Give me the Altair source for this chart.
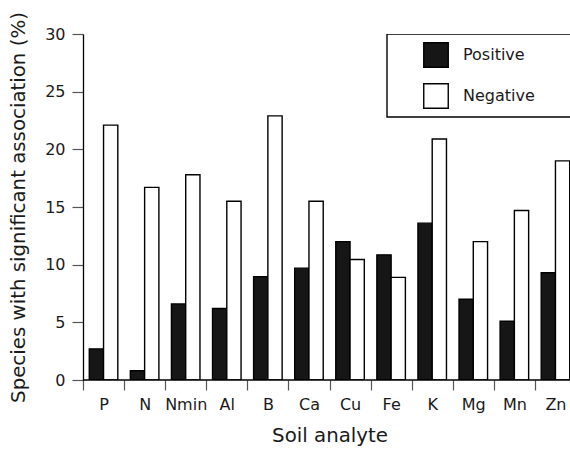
import altair as alt
import pandas as pd

analytes = ["P", "N", "Nmin", "Al", "B", "Ca", "Cu", "Fe", "K", "Mg", "Mn", "Zn"]
positive = [2.7, 0.8, 6.6, 6.2, 8.95, 9.7, 12.0, 10.85, 13.6, 7.0, 5.1, 9.3]
negative = [22.1, 16.7, 17.8, 15.5, 22.9, 15.5, 10.45, 8.9, 20.9, 12.0, 14.7, 19.0]
directions = ["Positive", "Negative"]

rows = []
for i, a in enumerate(analytes):
    rows.append({"analyte": a, "direction": "Positive", "value": positive[i]})
    rows.append({"analyte": a, "direction": "Negative", "value": negative[i]})
df = pd.DataFrame(rows)

FONT = "DejaVu Sans"
STEP = 493 / 12.0

bars = alt.Chart(df).mark_bar(stroke="black", strokeWidth=1.4, clip=True).encode(
    x=alt.X(
        "analyte:N",
        sort=analytes,
        scale=alt.Scale(range=[0, 493], paddingInner=0, paddingOuter=0),
        axis=alt.Axis(
            title="Soil analyte",
            labelAngle=0,
            domain=False,
            tickSize=10,
            tickOffset=-STEP / 2,
            labelOffset=STEP / 2,
            labelPadding=6,
            titlePadding=13,
        ),
    ),
    xOffset=alt.XOffset(
        "direction:N",
        sort=directions,
        scale=alt.Scale(domain=directions, paddingInner=0, paddingOuter=0.44),
    ),
    y=alt.Y(
        "value:Q",
        scale=alt.Scale(domain=[0, 30], nice=False),
        axis=alt.Axis(
            title="Species with significant association (%)",
            values=[0, 5, 10, 15, 20, 25, 30],
            tickSize=11,
            labelPadding=7,
            titlePadding=16,
            grid=False,
        ),
    ),
    fill=alt.Fill(
        "direction:N",
        sort=directions,
        scale=alt.Scale(domain=directions, range=["#161616", "#ffffff"]),
        legend=alt.Legend(
            title=None,
            orient="none",
            legendX=332,
            legendY=0,
            padding=8,
            symbolType="square",
            symbolSize=600,
            symbolStrokeColor="black",
            symbolStrokeWidth=1.4,
            labelOffset=14,
            rowPadding=9,
            labelFontSize=16,
            zindex=1,
        ),
    ),
)

baseline = alt.Chart(pd.DataFrame({"v": [0]})).mark_rule(
    color="black", strokeWidth=1.3
).encode(y=alt.Y("v:Q"))

frame = alt.Chart(pd.DataFrame({"k": [0]})).mark_rect(
    fill="white", stroke="black", strokeWidth=1.4, clip=True
).encode(
    x=alt.value(304), x2=alt.value(560), y=alt.value(0), y2=alt.value(83)
)

chart = alt.layer(frame, bars, baseline).properties(
    width=487,
    height=346,
    autosize=alt.AutoSizeParams(type="none"),
    padding={"left": 83, "top": 34, "right": 0, "bottom": 69},
).configure_view(stroke=None).configure_axis(
    labelFont=FONT,
    titleFont=FONT,
    labelFontSize=16,
    titleFontSize=19.8,
    titleFontWeight="normal",
    labelColor="#1a1a1a",
    titleColor="#1a1a1a",
    domainColor="black",
    domainWidth=1.3,
    tickColor="#555555",
    tickWidth=1.2,
    grid=False,
).configure_legend(
    labelFont=FONT,
    labelColor="#1a1a1a",
)

chart.save("out.html", embed_options={"renderer": "svg", "actions": False})
